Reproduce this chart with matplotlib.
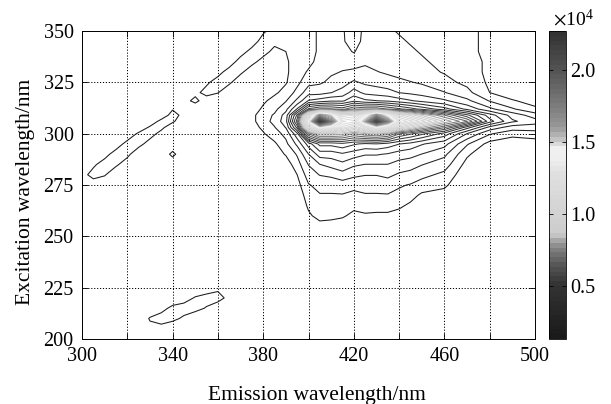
import numpy as np
import matplotlib
matplotlib.use("Agg")
import matplotlib.pyplot as plt
from matplotlib.colors import ListedColormap, Normalize
from matplotlib.cm import ScalarMappable

plt.rcParams['font.family'] = ['Liberation Serif', 'DejaVu Serif']
plt.rcParams['mathtext.fontset'] = 'stix'

# Emission wavelengths (nm) - columns
emission = [300, 305, 310, 315, 320, 325, 330, 335, 340, 345, 350, 355, 360, 365, 370, 375,
            380, 385, 390, 395, 400, 405, 410, 415, 420, 425, 430, 435, 440, 445, 450,
            460, 470, 480, 490, 500]
# Excitation wavelengths (nm) - rows
excitation = [200, 205, 210, 215, 220, 225, 230, 240, 250, 255, 260, 265, 270, 275,
              280, 285, 290, 295, 300, 303, 306, 309, 312, 316, 320, 325, 330, 335,
              340, 345, 350]
# Fluorescence intensity, in units of 0.01 x 10^4 (rows = excitation, cols = emission)
intensity_e2 = [
    [8,8,8,8,8,8,8,8,8,8,8,8,8,8,8,8,  8,8,8,8,8,8,8,8,8,8,8,8,8,8,8,8,8,8,8,8],
    [8,8,8,8,8,8,13,12,8,8,8,8,8,8,8,8,  8,8,8,8,8,8,8,8,8,8,8,8,8,8,8,8,8,8,8,8],
    [8,8,8,8,8,8,17,21,19,14,8,8,8,8,8,8,  8,8,8,8,8,8,8,8,8,8,8,8,8,8,8,8,8,8,8,8],
    [8,8,8,8,8,8,8,12,19,21,20,15,8,8,8,8,  8,8,8,8,8,8,8,8,8,8,8,8,8,8,8,8,8,8,8,8],
    [8,8,8,8,8,8,8,8,8,11,17,21,21,12,8,8,  8,8,8,8,8,8,8,8,8,8,8,8,8,8,8,8,8,8,8,8],
    [8,8,8,8,8,8,8,8,8,8,8,8,13,10,8,8,  8,8,8,8,8,8,8,8,8,8,8,8,8,8,8,8,8,8,8,8],
    [8,8,8,8,8,8,8,8,8,8,8,8,8,8,8,8,  8,8,8,8,8,8,8,8,8,8,8,8,8,8,8,8,8,8,8,8],
    [8,8,8,8,8,8,8,8,8,8,8,8,8,8,8,8,  8,8,8,8,8,8,8,8,8,8,8,8,8,8,8,8,8,8,8,8],
    [8,8,8,8,8,8,8,8,8,8,8,8,8,8,8,8,  8,8,8,8,8,10,8,8,8,8,8,8,8,8,8,8,8,8,8,8],
    [8,8,8,8,8,8,8,8,8,8,8,8,8,8,8,8,  8,8,8,8,12,14,13,12,10,12,12,11,11,8,8,8,8,8,8,8],
    [8,8,8,8,8,8,8,8,8,8,8,8,8,8,8,8,  8,8,8,9,15,18,18,17,14,15,15,15,14,12,10,8,8,8,8,8],
    [8,8,8,8,8,8,8,8,8,8,8,8,8,8,8,8,  8,8,9,11,17,19,19,19,18,19,18,18,17,15,12,10,8,8,8,8],
    [8,8,8,8,8,8,8,8,8,8,8,8,8,8,8,8,  8,8,10,12,19,21,21,21,20,21,21,21,20,18,15,14,9,8,8,8],
    [8,10,8,8,8,8,8,8,8,8,8,8,8,8,8,8,  8,8,11,14,21,23,23,24,23,23,23,24,22,21,19,17,11,8,8,8],
    [12,20,17,8,8,8,8,8,8,8,8,8,8,8,8,8,  9,10,12,16,24,27,28,30,28,27,27,28,26,25,23,20,12,9,8,8],
    [8,14,21,18,10,8,8,8,8,8,8,8,8,8,8,8,  8,11,13,19,27,32,34,36,33,32,32,32,30,29,27,24,14,10,8,8],
    [8,8,12,21,19,8,8,8,19,8,8,8,8,8,8,8,  8,13,16.5,22,32,40,40,42,40,38,38,37,35,34,32,28,17,11,9,8],
    [8,8,8,10,20,20,11,8,8,8,8,8,8,8,11,12,  12,15,20,28,40,50,50,52,49,47,48,46,43,41,38,34,22,14,12,13],
    [8,8,8,8,8,18,21,12,8,8,8,8,8,8,12,13,  15.5,19,23,36,70,85,85,82,75,80,82,78,65,60,55,46,32,22,18,19],
    [8,8,8,8,8,8,18,19,8,8,8,8,8,8,13,14,  17,21,27,50,110,140,130,110,100,115,135,120,100,90,80,65,45,30,24,24],
    [8,8,8,8,8,8,8,20,18,8,8,8,8,8,13,14.5,  19,23,30,62,135,222,180,125,120,160,215,175,125,115,105,85,70,45,33,29],
    [8,8,8,8,8,8,8,8,21,12,8,8,8,8,12,14.5,  19,22,29,55,110,170,150,110,105,135,170,140,105,95,85,70,55,40,30,24],
    [8,8,8,8,8,8,8,8,15,14,8,8,8,8,11,13,  17,20,25,38,60,65,65,62,70,68,68,64,60,56,52,45,36,28,22,17],
    [8,8,8,8,8,8,8,8,8,12,19,10,8,8,8,11,  15,18,21,28,38,40,42,42,47,44,43,42,40,38,36,33,28,21,16.5,14],
    [8,8,8,8,8,8,8,8,8,8,13,20,16.5,8,8,8,  10,15,18,23,30,30,32,34,40,36,35,34,32,31,30,27,23,16,13,11],
    [8,8,8,8,8,8,8,8,8,8,8,14,21,18,9,8,  9,12,15.5,20,25,26,28,30,33,31,30,29,28,27,26,23,20,15,12,10],
    [8,8,8,8,8,8,8,8,8,8,8,8,12,21,18,10,  9,11,15,19,22,24,26,27,28,28,27,26,25,24,23,21,18,15,11,10],
    [8,8,8,8,8,8,8,8,8,8,8,8,8,10,21,19,  12,11,15,19,20,23,25,25,24,26,25,24,23,23,22,20,18,15,11,10],
    [8,8,8,8,8,8,8,8,8,8,8,8,8,8,11,20,  20,13,16,19,20,22,24,23,21,24,24,23,22,22,21,19,17,15,11,10],
    [8,8,8,8,8,8,8,8,8,8,8,8,8,8,8,10,  21,19,18,18,20,22,22,22,19,23,24,23,22,21,20,19,17,15,10,9],
    [8,8,8,8,8,8,8,8,8,8,8,8,8,8,8,8,  14,21,19,17,20,22,22,22,18,23,23,22,21,21,20,19,17,15,10,9],
]
x_ticks = [300, 320, 340, 360, 380, 400, 420, 440, 460, 480, 500]
x_labels = ['300', '', '340', '', '380', '', '420', '', '460', '', '500']
y_ticks = [200, 225, 250, 275, 300, 325, 350]
cbar_ticks = [0.5, 1.0, 1.5, 2.0]

Z = np.array(intensity_e2, dtype=float) / 100.0
EM, EX = np.meshgrid(emission, excitation)

# gray colormap (dark - light - dark), 64 steps like MATLAB
anchor_t = [0.0, 0.171, 0.235, 0.279, 0.311, 0.33, 0.343, 0.43, 0.538, 0.592, 0.624, 0.64, 0.657, 0.689, 0.775, 0.873, 1.0]
anchor_g = [26, 51, 85, 119, 153, 192, 204, 213, 224, 240, 240, 208, 187, 153, 119, 85, 51]
tt = np.linspace(0, 1, 64)
gg = np.interp(tt, anchor_t, anchor_g) / 255.0
cmap = ListedColormap(np.column_stack([gg, gg, gg]))
norm = Normalize(vmin=0.13, vmax=2.27)

fig = plt.figure(figsize=(6.11, 4.04), dpi=100)
W, H = 611, 404
ax = fig.add_axes([82 / W, 1 - 339 / H, (535 - 82) / W, (339 - 31) / H])

levels = np.linspace(0.16, 2.2, 39)
ax.contour(EM, EX, Z, levels=levels, cmap=cmap, norm=norm, linewidths=0.75)

ax.set_xlim(300, 500)
ax.set_ylim(200, 350)
ax.set_xticks(x_ticks)
ax.set_xticklabels(x_labels)
ax.set_yticks(y_ticks)
ax.grid(True, color='black', linestyle=(0, (1.2, 1.8)), linewidth=0.7)
ax.tick_params(direction='in', length=4, width=0.6, top=True, right=True,
               labelsize=14.5, pad=6)
for s in ax.spines.values():
    s.set_linewidth(0.7)
ax.set_xlabel('Emission wavelength/nm', fontsize=15.5, labelpad=14)
ax.set_ylabel('Excitation wavelength/nm', fontsize=15.5, labelpad=6)
ax.xaxis.label.set_x(0.518)
ax.yaxis.label.set_y(0.478)

cax = fig.add_axes([549 / W, 1 - 339 / H, 17 / W, (339 - 31) / H])
sm = ScalarMappable(norm=norm, cmap=cmap)
cb = fig.colorbar(sm, cax=cax, ticks=cbar_ticks)
cb.ax.set_yticklabels(['%.1f' % v for v in cbar_ticks])
cb.ax.tick_params(direction='in', length=3, width=0.6, left=True, right=True,
                  labelsize=14.5, pad=3)
cb.outline.set_linewidth(0.6)
fig.text(553 / W, 1 - 26 / H, r'$\times\mathregular{10^{4}}$', fontsize=14,
         ha='left', va='baseline')

fig.savefig('out.png', dpi=100)
